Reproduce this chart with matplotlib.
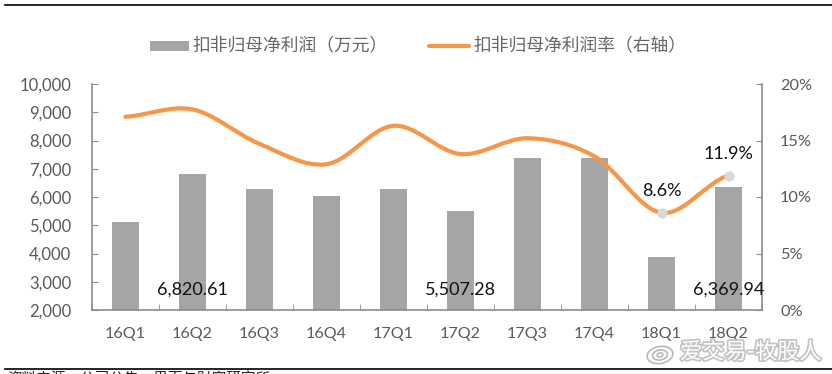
import matplotlib
matplotlib.use('Agg')
import matplotlib.pyplot as plt
import matplotlib.patheffects as pe
from matplotlib.path import Path
from matplotlib.patches import PathPatch, Ellipse
from matplotlib.ticker import FuncFormatter

plt.rcParams['font.family'] = ['Lato', 'Noto Sans CJK SC', 'DejaVu Sans']

quarters = ['16Q1', '16Q2', '16Q3', '16Q4', '17Q1', '17Q2', '17Q3', '17Q4', '18Q1', '18Q2']
profit = [5100, 6820.61, 6300, 6050, 6300, 5507.28, 7380, 7380, 3870, 6369.94]
margin = [17.1, 17.75, 14.7, 12.9, 16.3, 13.8, 15.2, 13.6, 8.6, 11.9]
bar_labels = {1: '6,820.61', 5: '5,507.28', 9: '6,369.94'}
margin_labels = {8: '8.6%', 9: '11.9%'}

W, H = 832, 374
fig = plt.figure(figsize=(W / 100, H / 100), dpi=100)
ax = fig.add_axes([92 / W, 1 - 310 / H, 670 / W, 226 / H])
x = list(range(len(quarters)))

bars = ax.bar(x, profit, 0.4, color='#a5a5a5', zorder=2)
ax.set_xlim(-0.5, 9.5)
ax.set_ylim(2000, 10000)
ax.set_yticks(range(2000, 10001, 1000))
ax.yaxis.set_major_formatter(FuncFormatter(lambda v, p: f'{int(v):,}'))
ax.set_xticks(x)
ax.set_xticklabels(quarters)
ax.set_xticks([i - 0.5 for i in range(11)], minor=True)
ax.tick_params(axis='x', which='major', length=0, pad=12, labelsize=11.6, labelcolor='#595959')
ax.tick_params(axis='x', which='minor', direction='in', length=4, color='#8c8c8c')
ax.tick_params(axis='y', direction='in', length=4, color='#8c8c8c', labelsize=12, labelcolor='#595959', pad=15)
ax.spines['top'].set_visible(False)
for s in ['left', 'bottom', 'right']:
    ax.spines[s].set_color('#8c8c8c')
    ax.spines[s].set_linewidth(1.2)

ax2 = ax.twinx()
ax2.set_ylim(0, 20)
ax2.set_yticks(range(0, 21, 5))
ax2.set_yticklabels([f'{v}%' for v in range(0, 21, 5)])
ax2.tick_params(axis='y', direction='in', length=4, color='#8c8c8c', labelsize=11.8, labelcolor='#595959', pad=13)
for s in ax2.spines.values():
    s.set_visible(False)

# smoothed line like excel: bezier segments through the data points
verts = [(x[0], margin[0])]
codes = [Path.MOVETO]
n = len(x)
for i in range(n - 1):
    p0 = margin[max(i - 1, 0)]
    p1 = margin[i]
    p2 = margin[i + 1]
    p3 = margin[min(i + 2, n - 1)]
    verts += [(x[i] + 1 / 3, p1 + (p2 - p0) / 6), (x[i] + 2 / 3, p2 - (p3 - p1) / 6), (x[i + 1], p2)]
    codes += [Path.CURVE4, Path.CURVE4, Path.CURVE4]
ax2.add_patch(PathPatch(Path(verts, codes), fill=False, edgecolor='#f79646', linewidth=3, capstyle='round', zorder=3))
idx = list(margin_labels)
ax2.scatter(idx, [margin[i] for i in idx], s=55, color='#d9d9d9', zorder=4, linewidths=0)

for i, t in margin_labels.items():
    ax2.annotate(t, (i, margin[i]), xytext=(0, 10), textcoords='offset points', ha='center', va='bottom',
                 fontsize=13, color='#111111', zorder=6)
for i, t in bar_labels.items():
    ax.annotate(t, (i, 2000), xytext=(0, 9), textcoords='offset points', ha='center', va='bottom',
                fontsize=13, color='#111111', zorder=6, annotation_clip=False)

# legend by hand, positions follow the reference
lg = fig.add_axes([0, 0, 1, 1], facecolor='none')
lg.set_xlim(0, W)
lg.set_ylim(H, 0)
lg.axis('off')
lg.fill_between([150, 189], 41, 51, color='#a5a5a5', linewidth=0)
lg.plot([429, 469], [45.5, 45.5], color='#f79646', linewidth=3, solid_capstyle='round')
lg.text(192, 45, '扣非归母净利润（万元）', fontsize=12.8, color='#666666', va='center')
lg.text(473, 45, '扣非归母净利润率（右轴）', fontsize=12.8, color='#666666', va='center')

# page rules and cut off source line
lg.plot([5, 832], [4.5, 4.5], color='black', linewidth=1.2)
lg.plot([5, 832], [369, 369], color='black', linewidth=1.2)
lg.text(7, 372, '资料来源：公司公告，界面与财富研究所', fontsize=10.5, color='#222222', va='top', clip_on=False)

# watermark
wm = lg.text(680, 352, '爱交易-牧股人', fontsize=16, color='white', va='center', zorder=8,
             path_effects=[pe.withStroke(linewidth=2.5, foreground='#c4c4c4')])
for w, h in [(26, 17), (15, 10), (6, 4)]:
    lg.add_patch(Ellipse((660, 355), w, h, angle=-10, fill=False, edgecolor='#b8b8b8', linewidth=1.2, zorder=8))

fig.savefig('out.png', dpi=100)
